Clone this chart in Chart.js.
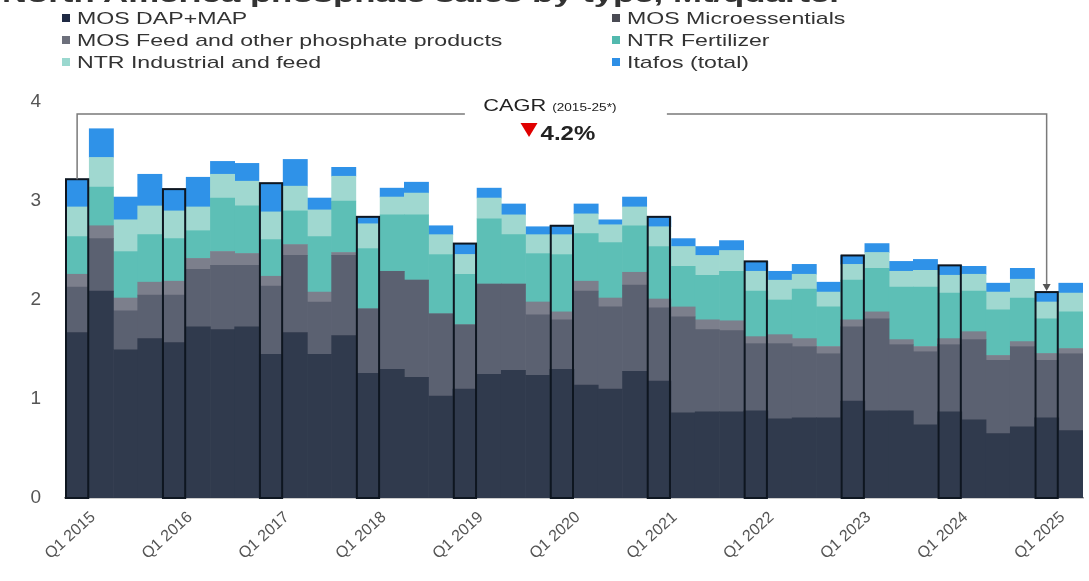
<!DOCTYPE html>
<html>
<head>
<meta charset="utf-8">
<script src="https://cdn.jsdelivr.net/npm/chart.js@4.4.1/dist/chart.umd.min.js"></script>
<style>
  body { margin: 0; background: #fff; }
  #wrap { position: relative; width: 1089px; height: 581px; overflow: hidden; font-family: "Liberation Sans", Arial, sans-serif; }
  #title { position: absolute; left: 2px; top: -18px; font-size: 22px; font-weight: bold; color: #333; white-space: nowrap; transform: scaleX(1.58); transform-origin: 0 0; }
  #legend { position: absolute; left: 62px; top: 9px; display: grid; grid-template-columns: 550px 300px; row-gap: 3px; }
  .item { font-size: 17px; color: #333; white-space: nowrap; line-height: 19px; }
  .item span { display: inline-block; width: 8px; height: 8px; margin-right: 7px; vertical-align: 2px; }
  .item b { font-weight: normal; display: inline-block; transform: scaleX(1.36); transform-origin: 0 0; }
  canvas { position: absolute; left: 0; top: 0; }
</style>
</head>
<body>
<div id="wrap">
  <canvas id="chart" width="1089" height="581"></canvas>
  <div id="title">North America phosphate sales by type, Mt/quarter</div>
  <div id="legend"></div>
</div>
<script>
// quarters, Q1 2015 .. Q2 2025
const quarters = [
  'Q1 2015','Q2 2015','Q3 2015','Q4 2015','Q1 2016','Q2 2016','Q3 2016','Q4 2016',
  'Q1 2017','Q2 2017','Q3 2017','Q4 2017','Q1 2018','Q2 2018','Q3 2018','Q4 2018',
  'Q1 2019','Q2 2019','Q3 2019','Q4 2019','Q1 2020','Q2 2020','Q3 2020','Q4 2020',
  'Q1 2021','Q2 2021','Q3 2021','Q4 2021','Q1 2022','Q2 2022','Q3 2022','Q4 2022',
  'Q1 2023','Q2 2023','Q3 2023','Q4 2023','Q1 2024','Q2 2024','Q3 2024','Q4 2024',
  'Q1 2025','Q2 2025'
];

// Mt per quarter
const mosDapMap = [1.67,2.09,1.50,1.61,1.57,1.73,1.70,1.73,1.45,1.67,1.45,1.64,1.26,1.30,1.22,1.03,
  1.10,1.25,1.29,1.24,1.30,1.14,1.10,1.28,1.18,0.86,0.87,0.87,0.88,0.80,0.81,0.81,
  0.98,0.88,0.88,0.74,0.87,0.79,0.65,0.72,0.81,0.68];
const mosMicro = [0.46,0.53,0.39,0.44,0.48,0.58,0.65,0.62,0.69,0.78,0.53,0.81,0.65,0.99,0.98,0.83,
  0.65,0.91,0.87,0.61,0.50,0.95,0.83,0.87,0.74,0.97,0.83,0.82,0.68,0.76,0.72,0.65,
  0.75,0.93,0.67,0.74,0.68,0.81,0.74,0.81,0.58,0.78];
const mosFeed = [0.13,0.13,0.13,0.13,0.14,0.11,0.14,0.12,0.10,0.11,0.10,0.03,0,0,0,0,
  0,0,0,0.13,0.08,0.10,0.09,0.13,0.09,0.10,0.10,0.10,0.07,0.09,0.08,0.07,
  0.07,0.07,0.05,0.05,0.06,0.08,0.05,0.05,0.07,0.05];
const ntrFert = [0.38,0.39,0.47,0.48,0.43,0.28,0.54,0.48,0.37,0.34,0.56,0.52,0.61,0.57,0.66,0.60,
  0.51,0.66,0.50,0.49,0.58,0.48,0.56,0.47,0.53,0.41,0.45,0.50,0.46,0.35,0.50,0.40,
  0.40,0.44,0.53,0.60,0.46,0.41,0.46,0.44,0.35,0.37];
const ntrInd = [0.30,0.30,0.32,0.29,0.28,0.24,0.24,0.25,0.28,0.25,0.27,0.25,0.25,0.18,0.22,0.20,
  0.20,0.21,0.20,0.19,0.20,0.20,0.18,0.19,0.20,0.20,0.20,0.21,0.20,0.20,0.15,0.15,
  0.16,0.16,0.16,0.17,0.18,0.17,0.18,0.19,0.17,0.19];
const itafos = [0.28,0.29,0.23,0.32,0.22,0.30,0.13,0.18,0.29,0.27,0.12,0.09,0.07,0.09,0.11,0.09,
  0.11,0.10,0.11,0.08,0.09,0.10,0.05,0.10,0.10,0.08,0.09,0.10,0.10,0.09,0.10,0.10,
  0.09,0.09,0.10,0.11,0.10,0.08,0.09,0.11,0.10,0.10];

const seriesNames = ['MOS DAP+MAP','MOS Microessentials','MOS Feed and other phosphate products',
  'NTR Fertilizer','NTR Industrial and feed','Itafos (total)'];
const seriesData = [mosDapMap, mosMicro, mosFeed, ntrFert, ntrInd, itafos];
const barColors = ['#303a4d','#5b6171','#7c7f8c','#5dbfb6','#a0d8d0','#2f92e8'];
const legendColors = ['#1f2a44','#4a4b54','#6d707c','#52b9ae','#9ad8cf','#2d8fe6'];

const cagrText = 'CAGR';
const cagrPeriod = '(2015-25*)';
const cagrValue = '4.2%';
const cagrFrom = 'Q1 2015', cagrTo = 'Q1 2025';
const cagrLevel = 3.88;
const stretch = 1.36; // the picture's text is wider than normal

// legend in two columns, filled row by row
const legend = document.getElementById('legend');
seriesNames.forEach((name, i) => {
  const d = document.createElement('div');
  d.className = 'item';
  d.innerHTML = `<span style="background:${legendColors[i]}"></span><b>${name}</b>`;
  legend.appendChild(d);
});

// black frame around each Q1 stack
const q1Outline = {
  id: 'q1Outline',
  afterDatasetsDraw(chart) {
    const ctx = chart.ctx;
    const first = chart.getDatasetMeta(0);
    const last = chart.getDatasetMeta(chart.data.datasets.length - 1);
    ctx.save();
    ctx.strokeStyle = '#0e1620';
    ctx.lineWidth = 2;
    quarters.forEach((q, i) => {
      if (!q.startsWith('Q1')) return;
      const b = first.data[i], t = last.data[i];
      const left = b.x - b.width / 2 + 1, w = b.width - 2;
      ctx.strokeRect(left, t.y, w, b.base - t.y);
    });
    ctx.restore();
  }
};

// stretched text helper
function wideText(ctx, txt, x, y, k) {
  ctx.save();
  ctx.translate(x, y);
  ctx.scale(k || stretch, 1);
  ctx.fillText(txt, 0, 0);
  ctx.restore();
}

// CAGR bracket from Q1 2015 to Q1 2025
const cagrBracket = {
  id: 'cagrBracket',
  afterDatasetsDraw(chart) {
    const ctx = chart.ctx;
    const last = chart.getDatasetMeta(chart.data.datasets.length - 1);
    const a = last.data[quarters.indexOf(cagrFrom)];
    const b = last.data[quarters.indexOf(cagrTo)];
    const y = chart.scales.y.getPixelForValue(cagrLevel);
    const mid = (a.x + b.x) / 2;
    ctx.save();
    ctx.strokeStyle = '#7a7a7a';
    ctx.lineWidth = 1.5;
    ctx.beginPath();
    ctx.moveTo(a.x, a.y);
    ctx.lineTo(a.x, y);
    ctx.lineTo(mid - 97, y);
    ctx.moveTo(mid + 105, y);
    ctx.lineTo(b.x, y);
    ctx.lineTo(b.x, b.y - 4);
    ctx.stroke();
    ctx.fillStyle = '#555';
    ctx.beginPath();
    ctx.moveTo(b.x - 4, b.y - 8);
    ctx.lineTo(b.x + 4, b.y - 8);
    ctx.lineTo(b.x, b.y - 1);
    ctx.closePath();
    ctx.fill();

    // text
    ctx.fillStyle = '#222';
    ctx.textAlign = 'left';
    ctx.textBaseline = 'alphabetic';
    ctx.font = '16px "Liberation Sans", Arial, sans-serif';
    const w1 = ctx.measureText(cagrText + ' ').width * stretch;
    ctx.font = '10px "Liberation Sans", Arial, sans-serif';
    const w2 = ctx.measureText(cagrPeriod).width * stretch;
    const x = mid - 12 - (w1 + w2) / 2;
    ctx.font = '16px "Liberation Sans", Arial, sans-serif';
    wideText(ctx, cagrText, x, y - 3);
    ctx.font = '10px "Liberation Sans", Arial, sans-serif';
    wideText(ctx, cagrPeriod, x + w1, y - 3);

    ctx.font = 'bold 20px "Liberation Sans", Arial, sans-serif';
    const w3 = ctx.measureText(cagrValue).width * 1.2;
    const tx = mid - 4 - (w3 + 20) / 2;
    ctx.fillStyle = '#e00000';
    ctx.beginPath();
    ctx.moveTo(tx, y + 9);
    ctx.lineTo(tx + 17, y + 9);
    ctx.lineTo(tx + 8.5, y + 23);
    ctx.closePath();
    ctx.fill();
    ctx.fillStyle = '#222';
    wideText(ctx, cagrValue, tx + 20, y + 26, 1.2);
    ctx.restore();
  }
};

new Chart(document.getElementById('chart'), {
  type: 'bar',
  data: {
    labels: quarters,
    datasets: seriesData.map((d, i) => ({
      label: seriesNames[i],
      data: d,
      backgroundColor: barColors[i],
      borderWidth: 0,
      categoryPercentage: 1,
      barPercentage: 1
    }))
  },
  options: {
    responsive: false,
    animation: false,
    layout: { padding: { left: 0, right: 6, top: 102, bottom: 0 } },
    plugins: { legend: { display: false }, tooltip: { enabled: false } },
    scales: {
      x: {
        stacked: true,
        grid: { display: false },
        border: { color: '#999', width: 1.5 },
        afterFit(s) { s.height = 83; },
        ticks: {
          autoSkip: false,
          minRotation: 42,
          maxRotation: 42,
          labelOffset: 16,
          padding: 2,
          color: '#555',
          font: { size: 16, family: '"Liberation Sans", Arial, sans-serif' },
          callback(v, i) { return quarters[i].startsWith('Q1') ? quarters[i] : ''; }
        }
      },
      y: {
        stacked: true,
        min: 0,
        max: 4,
        grid: { display: false, drawTicks: false },
        border: { display: false },
        afterFit(s) { s.width = 65; },
        ticks: {
          stepSize: 1,
          padding: 24,
          color: '#555',
          font: { size: 19, family: '"Liberation Sans", Arial, sans-serif' }
        }
      }
    }
  },
  plugins: [q1Outline, cagrBracket]
});
</script>
</body>
</html>
